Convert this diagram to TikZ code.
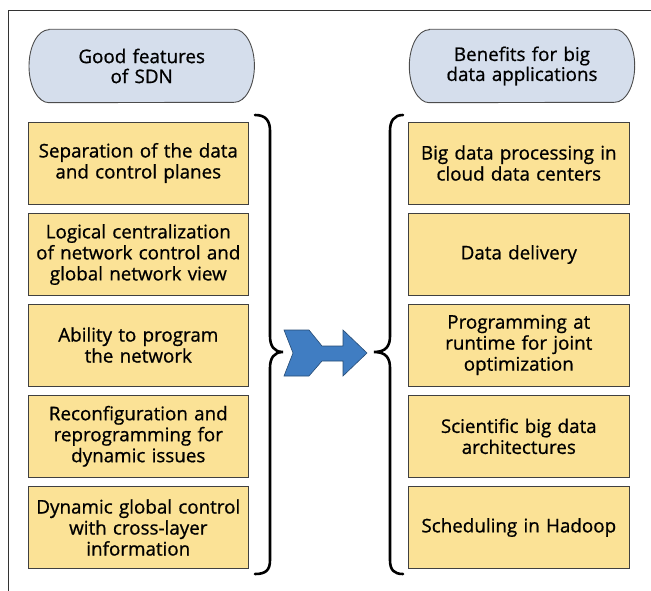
\documentclass[tikz,border=0pt]{standalone}
\usepackage{fontspec}
\setmainfont{Open Sans}[RawFeature={embolden=0.8}]
\usetikzlibrary{backgrounds}
\definecolor{boxyellow}{RGB}{251,226,150}
\definecolor{pillblue}{RGB}{213,222,236}
\definecolor{arrowblue}{RGB}{64,125,194}
\begin{document}
\begin{tikzpicture}[x=1pt,y=-1pt,
    item/.style={draw=black!75, fill=boxyellow, line width=0.9pt, minimum width=219pt, minimum height=82pt, text width=214pt, align=center, font=\fontsize{18.8}{21}\selectfont},
    head/.style={minimum width=225pt, minimum height=73pt, text width=200pt, align=center, font=\fontsize{18.8}{20}\selectfont},
    pill/.style={draw=black!70, fill=pillblue, line width=0.9pt},
    brace/.style={line width=2.6pt, line cap=round}]
    \useasboundingbox (0,0) rectangle (651,591);
    \draw[black!80, line width=0.8pt] (8,591) -- (8,10) -- (651,10);

    % headers
    \node[head] (sdn) at (141.7,66) {Good features\\of SDN};
    \node[head] (bigdata) at (522,66) {Benefits for big\\data applications};
    \begin{scope}[on background layer]
        \draw[pill] ([xshift=20pt]sdn.north west) -- ([xshift=-20pt]sdn.north east) arc[start angle=90, end angle=-90, x radius=20pt, y radius=36.5pt] -- ([xshift=20pt]sdn.south west) arc[start angle=270, end angle=90, x radius=20pt, y radius=36.5pt] -- cycle;
        \draw[pill] ([xshift=20pt]bigdata.north west) -- ([xshift=-20pt]bigdata.north east) arc[start angle=90, end angle=-90, x radius=20pt, y radius=36.5pt] -- ([xshift=20pt]bigdata.south west) arc[start angle=270, end angle=90, x radius=20pt, y radius=36.5pt] -- cycle;
    \end{scope}

    % features of SDN
    \node[item] (sep) at (138.3,163) {Separation of the data\\and control planes};
    \node[item] (central) at (138.3,254.5) {Logical centralization\\of network control and\\global network view};
    \node[item] (prog) at (138.3,345) {Ability to program\\the network};
    \node[item] (reconf) at (138.3,436.3) {Reconfiguration and\\reprogramming for\\dynamic issues};
    \node[item] (dyn) at (138.3,527.5) {Dynamic global control\\with cross-layer\\information};

    % benefits
    \node[item] (cloud) at (518.8,163) {Big data processing in\\cloud data centers};
    \node[item] (delivery) at (518.8,254.5) {Data delivery};
    \node[item] (runtime) at (518.8,345) {Programming at\\runtime for joint\\optimization};
    \node[item] (sci) at (518.8,436.3) {Scientific big data\\architectures};
    \node[item] (hadoop) at (518.8,527.5) {Scheduling in Hadoop};

    % braces
    \draw[brace] (255,115) .. controls (266,115) and (270,121) .. (270,131) -- (270,336) .. controls (270,346) and (274,352) .. (283,352) .. controls (274,352) and (270,358) .. (270,368) -- (270,560) .. controls (270,570) and (266,574) .. (255,574);
    \draw[brace] (403,115) .. controls (394,115) and (390,121) .. (390,131) -- (390,336) .. controls (390,346) and (386,352) .. (374,352) .. controls (386,352) and (390,358) .. (390,368) -- (390,560) .. controls (390,570) and (394,574) .. (403,574);

    % arrow
    \draw[fill=arrowblue, draw=arrowblue!60!black, line width=0.6pt] (284,330) -- (309,330) -- (322,346) -- (343,346) -- (343,330) -- (367,353) -- (343,376) -- (343,361) -- (322,361) -- (309,376) -- (284,376) -- (293,353) -- cycle;
\end{tikzpicture}
\end{document}
